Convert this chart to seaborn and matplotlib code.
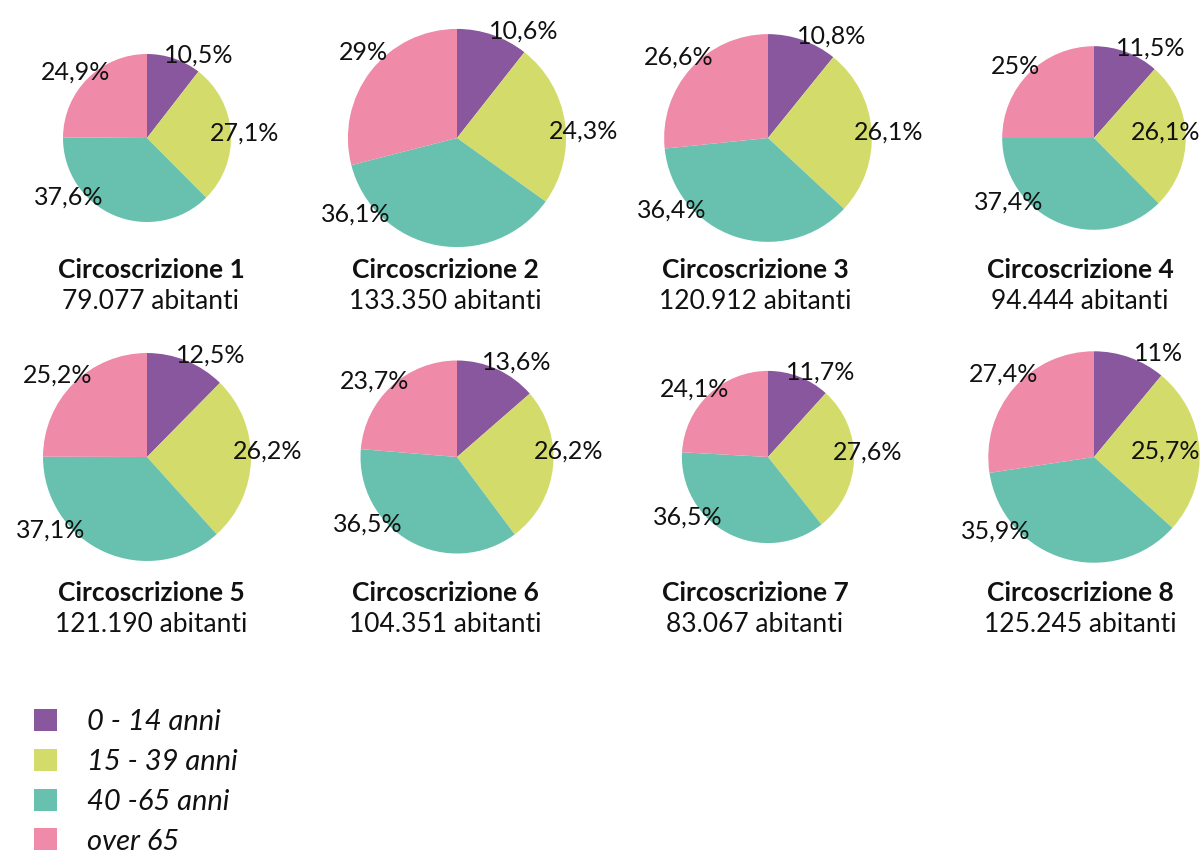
import numpy as np
import matplotlib
matplotlib.use("Agg")
import matplotlib.pyplot as plt
from matplotlib.patches import Patch
import seaborn as sns

# Population by age group in the eight districts (percent of residents)
districts = ["Circoscrizione 1", "Circoscrizione 2", "Circoscrizione 3", "Circoscrizione 4",
             "Circoscrizione 5", "Circoscrizione 6", "Circoscrizione 7", "Circoscrizione 8"]
residents = [79077, 133350, 120912, 94444, 121190, 104351, 83067, 125245]
share_0_14 = [10.5, 10.6, 10.8, 11.5, 12.5, 13.6, 11.7, 11.0]
share_15_39 = [27.1, 24.3, 26.1, 26.1, 26.2, 26.2, 27.6, 25.7]
share_40_65 = [37.6, 36.1, 36.4, 37.4, 37.1, 36.5, 36.5, 35.9]
share_over_65 = [24.9, 29.0, 26.6, 25.0, 25.2, 23.7, 24.1, 27.4]
age_groups = ["0 - 14 anni", "15 - 39 anni", "40 -65 anni", "over 65"]

sns.set_theme(style="white")
plt.rcParams["font.family"] = ["Lato", "DejaVu Sans"]
palette = sns.color_palette(["#89579e", "#d3dc6b", "#67c1ae", "#ef8aa9"])

W, H = 1202, 856
fig = plt.figure(figsize=(W / 100, H / 100), dpi=100)
ax = fig.add_axes([0, 0, 1, 1])
ax.set_xlim(0, W)
ax.set_ylim(0, H)

# Grid layout in pixels (y measured from the top)
pie_cols = [147, 457, 768, 1094]
title_cols = [151, 445, 755, 1080]
pie_rows = [138, 457]
title_rows = [270, 593]
sub_gap = 31
base_radius = 84          # radius of the smallest district, pie area scales with residents
label_dir = [58, 3, 217, 137.5]   # direction of each age-group label, degrees
label_dist = 1.16

def fmt_pct(v):
    s = f"{v:.1f}".replace(".", ",")
    if s.endswith(",0"):
        s = s[:-2]
    return s + "%"

pct_texts = []
for i, name in enumerate(districts):
    r_i, c_i = divmod(i, 4)
    cx = pie_cols[c_i]
    cy = H - pie_rows[r_i]
    vals = [share_0_14[i], share_15_39[i], share_40_65[i], share_over_65[i]]
    radius = base_radius * np.sqrt(residents[i] / residents[0])
    ax.pie(vals, colors=palette, startangle=90, counterclock=False,
           center=(cx, cy), radius=radius,
           wedgeprops=dict(linewidth=0, antialiased=True))
    for k, v in enumerate(vals):
        th = np.deg2rad(label_dir[k])
        t = ax.text(cx + label_dist * radius * np.cos(th),
                    cy + label_dist * radius * np.sin(th),
                    fmt_pct(v), ha="center", va="center", fontsize=18, color="#111111")
        pct_texts.append(t)
    tx = title_cols[c_i]
    ty = H - title_rows[r_i]
    ax.text(tx, ty, name, ha="center", va="center", fontsize=19,
            fontweight="bold", color="#111111")
    pop = f"{residents[i]:,}".replace(",", ".")
    ax.text(tx, ty - sub_gap, f"{pop} abitanti", ha="center", va="center",
            fontsize=19, color="#111111")

handles = [Patch(facecolor=palette[k], edgecolor="none") for k in range(4)]
leg = ax.legend(handles, age_groups, loc="upper left",
                bbox_to_anchor=(34 / W, 1 - 709 / H), frameon=False,
                prop=dict(size=21, style="italic"),
                handlelength=0.78, handleheight=0.78, handletextpad=1.05,
                labelspacing=0.47, borderpad=0, borderaxespad=0)
for t in leg.get_texts():
    t.set_color("#111111")

ax.set_xlim(0, W)
ax.set_ylim(0, H)
ax.set_aspect("equal")
ax.axis("off")

# Keep percentage labels inside the canvas near the right edge
fig.canvas.draw()
renderer = fig.canvas.get_renderer()
for t in pct_texts:
    bb = t.get_window_extent(renderer)
    overflow = bb.x1 - (W - 2)
    if overflow > 0:
        x, y = t.get_position()
        t.set_position((x - overflow, y))

fig.savefig("out.png", dpi=100, facecolor="white")
